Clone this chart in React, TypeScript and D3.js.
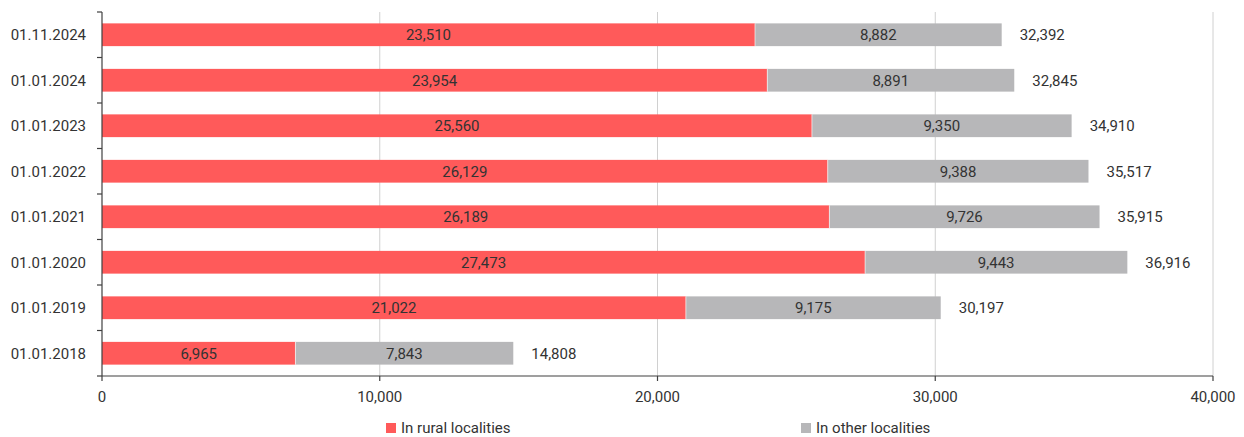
import React from "react";
import * as d3 from "d3";

const categories = ["01.11.2024", "01.01.2024", "01.01.2023", "01.01.2022", "01.01.2021", "01.01.2020", "01.01.2019", "01.01.2018"];
const rural = [23510, 23954, 25560, 26129, 26189, 27473, 21022, 6965];
const other = [8882, 8891, 9350, 9388, 9726, 9443, 9175, 7843];
const totals = [32392, 32845, 34910, 35517, 35915, 36916, 30197, 14808];
const xTicks = [0, 10000, 20000, 30000, 40000];
const seriesNames = ["In rural localities", "In other localities"];
const colors = ["#FF5A5A", "#B7B7B9"];

const W = 1244, H = 437;
const left = 102, right = 1213, top = 12, bottom = 376;
const font = "Roboto, 'Noto Sans', sans-serif";
const fs = 15;
const fmt = d3.format(",");

export default function App() {
  const x = d3.scaleLinear().domain([0, 40000]).range([left, right]);
  const y = d3.scaleBand<string>().domain(categories).range([top, bottom]).paddingInner(0.5).paddingOuter(0.25);
  const step = y.step();
  const bw = y.bandwidth();
  return (
    <svg width={W} height={H} style={{ position: "absolute", left: 0, top: 0, fontFamily: font }}>
      {xTicks.slice(1).map((t) => (
        <line key={t} x1={x(t)} x2={x(t)} y1={top} y2={bottom} stroke="#D0D0D0" strokeWidth={1} />
      ))}
      {categories.map((c, i) => {
        const yy = y(c)!;
        const r = rural[i], o = other[i];
        return (
          <g key={c}>
            <rect x={x(0)} y={yy} width={x(r) - x(0)} height={bw} fill={colors[0]} />
            <rect x={x(r)} y={yy} width={x(r + o) - x(r)} height={bw} fill={colors[1]} />
            <line x1={x(r)} x2={x(r)} y1={yy} y2={yy + bw} stroke="#fff" strokeOpacity={0.6} strokeWidth={1} />
            <text x={(x(0) + x(r)) / 2} y={yy + bw / 2} dy="0.35em" textAnchor="middle" fontSize={fs} fill="#333">{fmt(r)}</text>
            <text x={(x(r) + x(r + o)) / 2} y={yy + bw / 2} dy="0.35em" textAnchor="middle" fontSize={fs} fill="#333">{fmt(o)}</text>
            <text x={x(totals[i]) + 18} y={yy + bw / 2} dy="0.35em" textAnchor="start" fontSize={fs} fill="#333">{fmt(totals[i])}</text>
            <text x={left - 16} y={yy + bw / 2} dy="0.35em" textAnchor="end" fontSize={fs} fill="#333">{c}</text>
          </g>
        );
      })}
      {/* y axis */}
      <line x1={left} x2={left} y1={top} y2={bottom} stroke="#404040" strokeWidth={1.2} />
      {d3.range(categories.length + 1).map((k) => (
        <line key={k} x1={left - 5} x2={left} y1={top + k * step} y2={top + k * step} stroke="#404040" strokeWidth={1.2} />
      ))}
      {/* x axis */}
      <line x1={left} x2={right} y1={bottom} y2={bottom} stroke="#404040" strokeWidth={1.2} />
      {xTicks.map((t) => (
        <g key={t}>
          <line x1={x(t)} x2={x(t)} y1={bottom} y2={bottom + 5} stroke="#404040" strokeWidth={1.2} />
          <text x={x(t)} y={bottom + 21} dy="0.35em" textAnchor="middle" fontSize={fs} fill="#333">{fmt(t)}</text>
        </g>
      ))}
      {/* legend */}
      {[386, 801].map((lx, i) => (
        <g key={i}>
          <rect x={lx} y={423} width={10} height={10} fill={colors[i]} />
          <text x={lx + 15} y={428} dy="0.35em" fontSize={fs} fill="#333">{seriesNames[i]}</text>
        </g>
      ))}
    </svg>
  );
}
